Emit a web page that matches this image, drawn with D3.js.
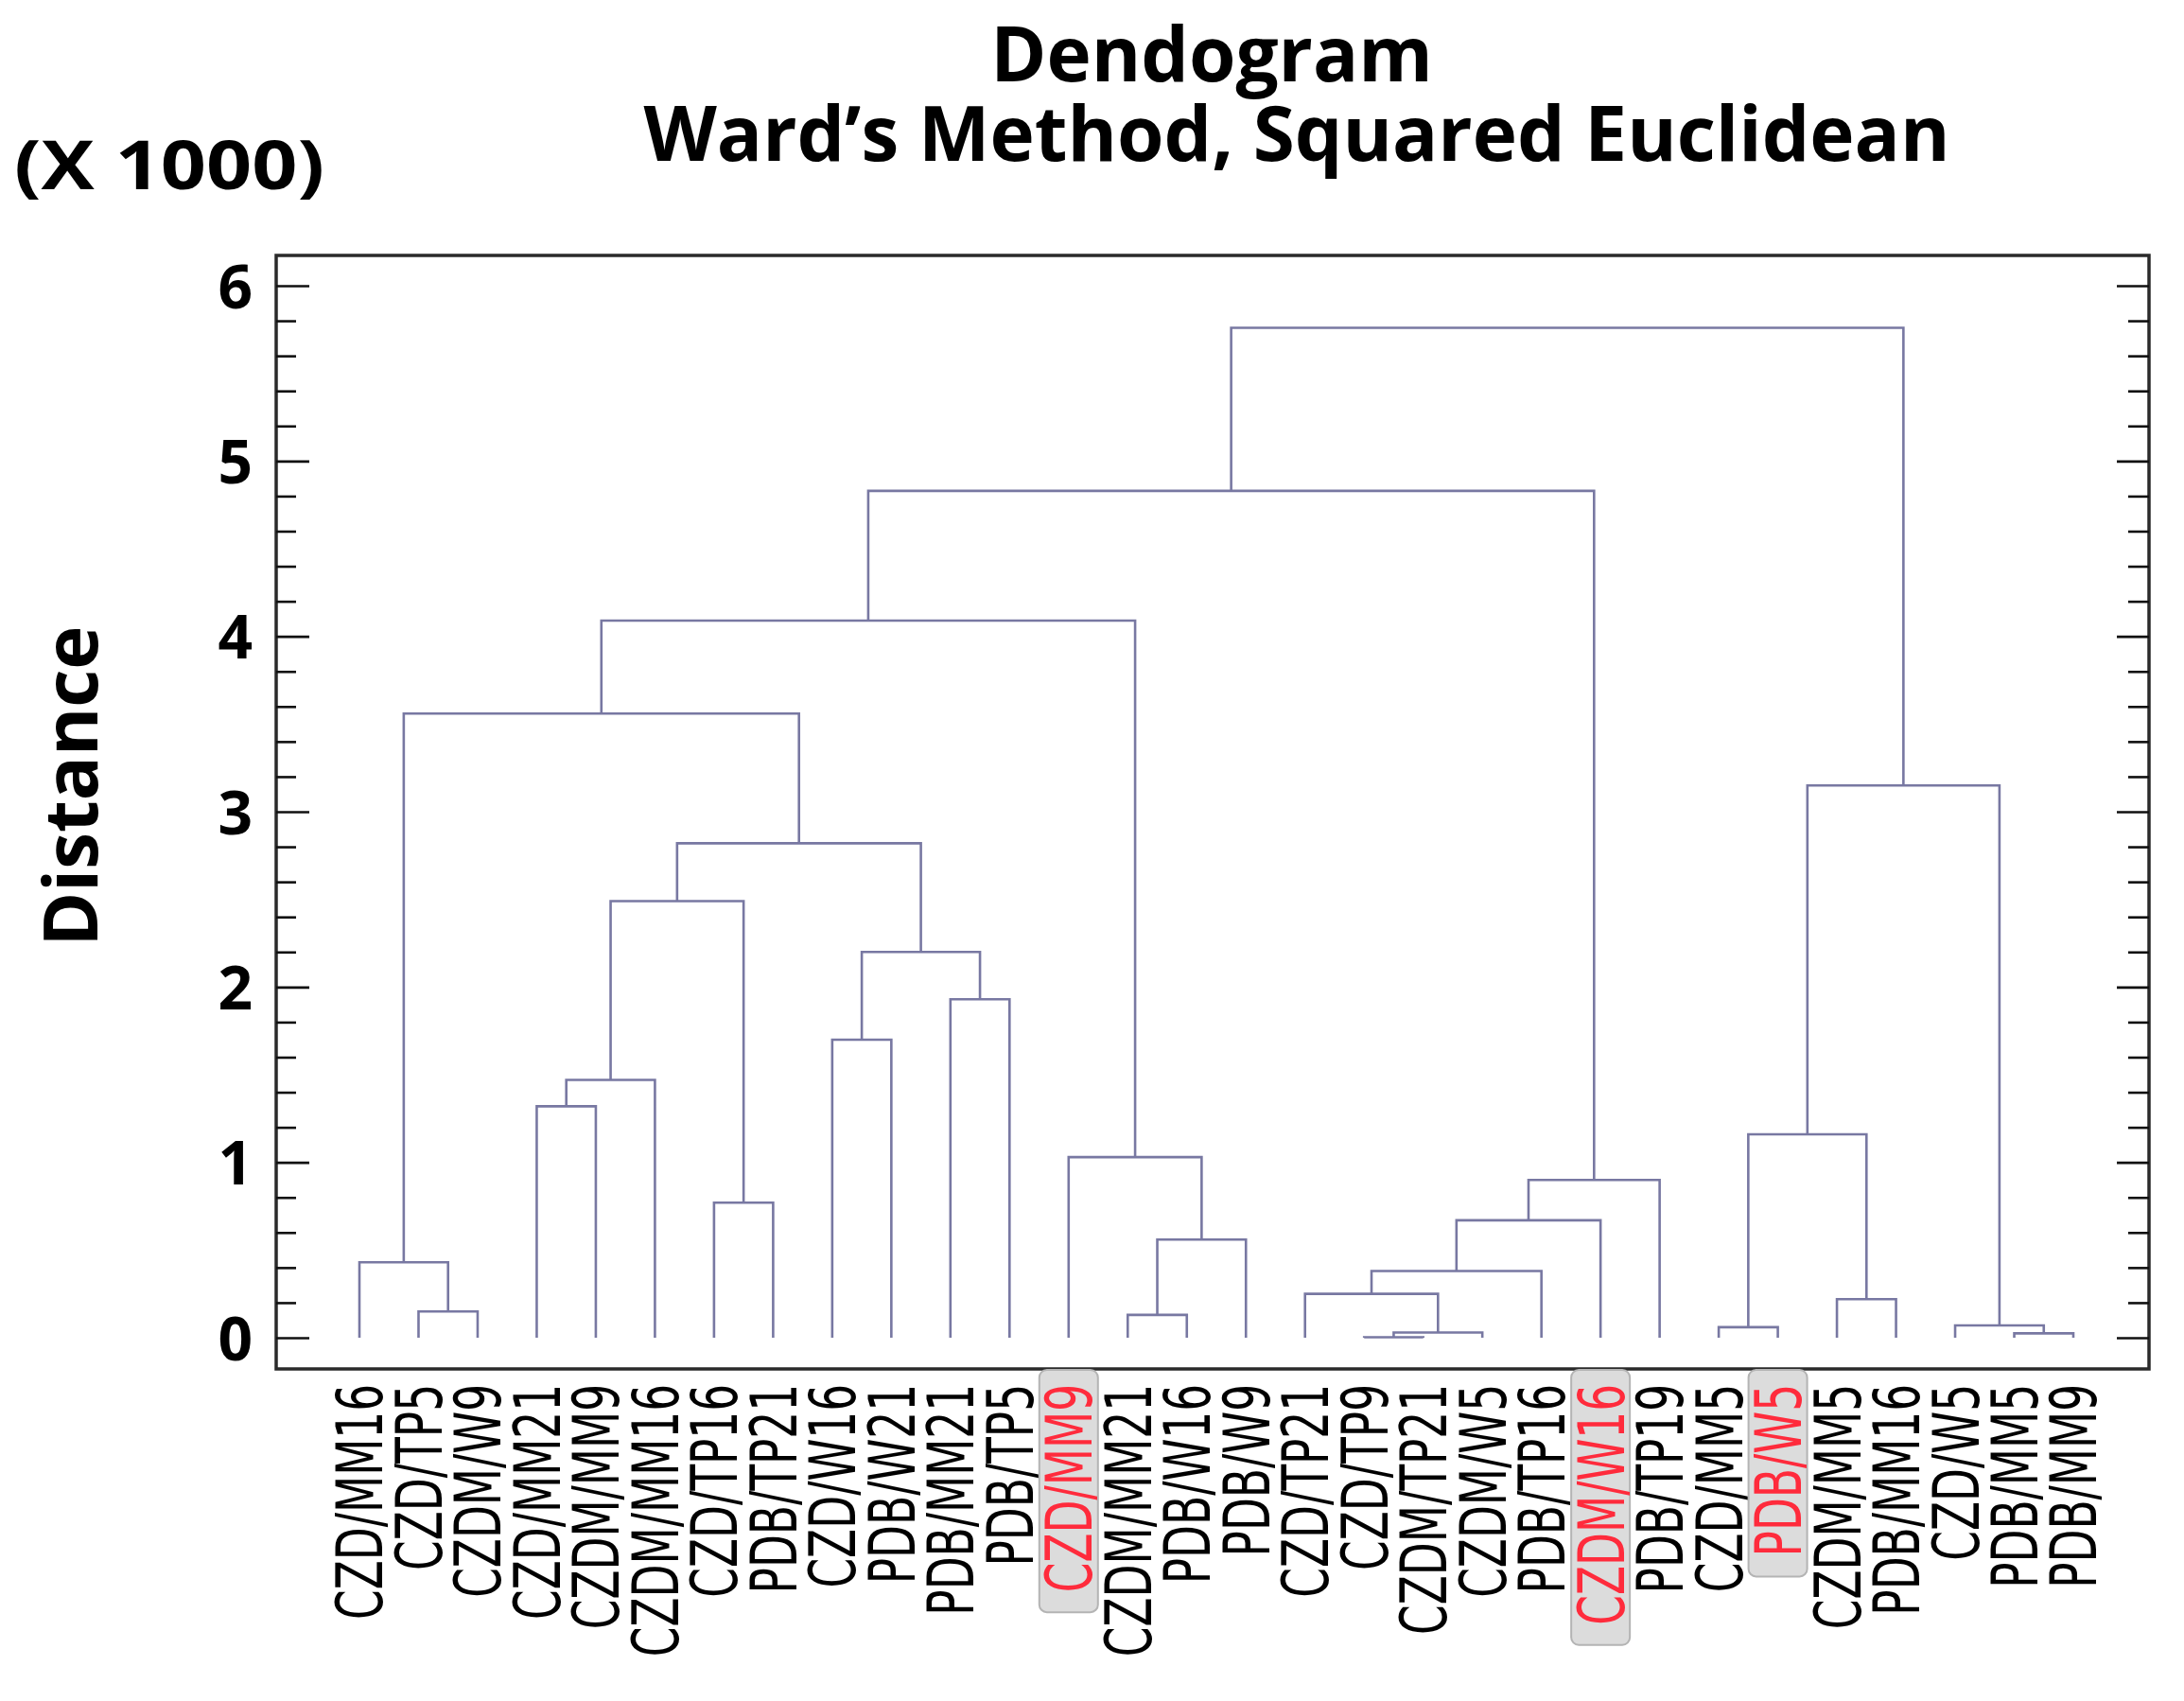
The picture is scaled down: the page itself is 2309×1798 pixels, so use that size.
<!DOCTYPE html>
<html>
<head>
<meta charset="utf-8">
<script src="https://cdn.jsdelivr.net/npm/d3@7/dist/d3.min.js"></script>
<style>
  body { margin: 0; background: #fff; }
</style>
</head>
<body>
<div id="chart"></div>
<script>
'use strict';

// leaf order along the x axis
var leaves = [
    'CZD/MM16', 'CZD/TP5', 'CZDM/W9', 'CZD/MM21', 'CZDM/MM9', 'CZDM/MM16',
    'CZD/TP16', 'PDB/TP21', 'CZD/W16', 'PDB/W21', 'PDB/MM21', 'PDB/TP5',
    'CZD/MM9', 'CZDM/MM21', 'PDB/W16', 'PDB/W9', 'CZD/TP21', 'CZD/TP9',
    'CZDM/TP21', 'CZDM/W5', 'PDB/TP16', 'CZDM/W16', 'PDB/TP19', 'CZD/MM5',
    'PDB/W5', 'CZDM/MM5', 'PDB/MM16', 'CZD/W5', 'PDB/MM5', 'PDB/MM9'
];

var highlighted = ['CZD/MM9', 'CZDM/W16', 'PDB/W5'];

// merges: [child a, child b, distance (x 1000)]
// ids 0..29 are leaves, merge i gets id 30 + i
var linkage = [
    [17, 18, 0.003],   // 30
    [30, 19, 0.03],    // 31
    [28, 29, 0.025],   // 32
    [23, 24, 0.06],    // 33
    [27, 32, 0.07],    // 34
    [13, 14, 0.13],    // 35
    [1, 2, 0.15],      // 36
    [25, 26, 0.22],    // 37
    [16, 31, 0.25],    // 38
    [38, 20, 0.38],    // 39
    [0, 36, 0.43],     // 40
    [35, 15, 0.56],    // 41
    [39, 21, 0.67],    // 42
    [6, 7, 0.77],      // 43
    [42, 22, 0.90],    // 44
    [12, 41, 1.03],    // 45
    [33, 37, 1.16],    // 46
    [3, 4, 1.32],      // 47
    [47, 5, 1.47],     // 48
    [8, 9, 1.70],      // 49
    [10, 11, 1.93],    // 50
    [49, 50, 2.20],    // 51
    [48, 43, 2.49],    // 52
    [52, 51, 2.82],    // 53
    [46, 34, 3.15],    // 54
    [40, 53, 3.56],    // 55
    [55, 45, 4.09],    // 56
    [56, 44, 4.83],    // 57
    [57, 54, 5.76]     // 58
];

var majorTicks = [0, 1, 2, 3, 4, 5, 6];
var minorTicks = [0.2, 0.4, 0.6, 0.8, 1.2, 1.4, 1.6, 1.8, 2.2, 2.4, 2.6, 2.8,
                  3.2, 3.4, 3.6, 3.8, 4.2, 4.4, 4.6, 4.8, 5.2, 5.4, 5.6, 5.8];

var W = 2309, H = 1798;
var frame = {left: 292, right: 2272, top: 270, bottom: 1447};

var svg = d3.select('#chart').append('svg')
    .attr('width', W)
    .attr('height', H)
    .style('background', '#fff');

var x = d3.scalePoint()
    .domain(leaves)
    .range([frame.left + 88, frame.right - 80]);

var y = d3.scaleLinear()
    .domain([0, 6])
    .range([1414, 302]);

// node positions
var nodeX = leaves.map(function(d) { return x(d); });
var nodeH = leaves.map(function() { return 0; });
linkage.forEach(function(m) {
    nodeX.push((nodeX[m[0]] + nodeX[m[1]]) / 2);
    nodeH.push(m[2]);
});

// dendrogram links
svg.append('g')
  .selectAll('path')
    .data(linkage)
  .enter().append('path')
    .attr('fill', 'none')
    .attr('stroke', '#7878a2')
    .attr('stroke-width', 2.6)
    .attr('d', function(m) {
        var a = m[0], b = m[1];
        return 'M' + nodeX[a] + ',' + y(nodeH[a]) +
               'V' + y(m[2]) +
               'H' + nodeX[b] +
               'V' + y(nodeH[b]);
    });

// frame
svg.append('rect')
    .attr('x', frame.left)
    .attr('y', frame.top)
    .attr('width', frame.right - frame.left)
    .attr('height', frame.bottom - frame.top)
    .attr('fill', 'none')
    .attr('stroke', '#2a2a2a')
    .attr('stroke-width', 3.5);

// left axis
var leftMajor = svg.append('g')
    .attr('transform', 'translate(' + frame.left + ',0)')
    .call(d3.axisLeft(y).tickValues(majorTicks).tickSize(-35).tickPadding(25).tickFormat(d3.format('d')));
var leftMinor = svg.append('g')
    .attr('transform', 'translate(' + frame.left + ',0)')
    .call(d3.axisLeft(y).tickValues(minorTicks).tickSize(-21).tickFormat(''));
var rightMajor = svg.append('g')
    .attr('transform', 'translate(' + frame.right + ',0)')
    .call(d3.axisRight(y).tickValues(majorTicks).tickSize(-34).tickFormat(''));
var rightMinor = svg.append('g')
    .attr('transform', 'translate(' + frame.right + ',0)')
    .call(d3.axisRight(y).tickValues(minorTicks).tickSize(-22).tickFormat(''));

[leftMajor, leftMinor, rightMajor, rightMinor].forEach(function(g) {
    g.select('.domain').remove();
    g.selectAll('.tick line').attr('stroke', '#111').attr('stroke-width', 2.6);
});
leftMajor.selectAll('.tick text')
    .style('font-family', '"Open Sans", sans-serif')
    .style('font-weight', 'bold')
    .style('font-size', '64px')
    .attr('fill', '#000')
    .attr('dy', '0.36em');

// leaf labels, rotated, condensed
var labelFont = '"Liberation Sans Narrow", "DejaVu Sans Condensed", "Liberation Sans", sans-serif';
var probe = svg.append('text')
    .style('font-family', labelFont)
    .style('font-size', '68px')
    .text('CZD/MM16');
var squeeze = 249 / probe.node().getComputedTextLength();
probe.remove();

var labelTop = 1463;
var labels = svg.append('g').selectAll('g')
    .data(leaves)
  .enter().append('g')
    .attr('transform', function(d) { return 'translate(' + x(d) + ',' + labelTop + ')'; });

labels.each(function(d) {
    var g = d3.select(this);
    var isHi = highlighted.indexOf(d) >= 0;
    var t = g.append('text')
        .attr('transform', 'rotate(-90) scale(' + squeeze + ',1)')
        .attr('text-anchor', 'end')
        .attr('dy', '0.36em')
        .style('font-family', labelFont)
        .style('font-size', '68px')
        .attr('fill', isHi ? '#ff2b3c' : '#000')
        .text(d);
    if (isHi) {
        var len = t.node().getComputedTextLength() * squeeze;
        g.insert('rect', 'text')
            .attr('x', -31)
            .attr('y', frame.bottom + 1 - labelTop)
            .attr('width', 62)
            .attr('height', len + 20 + (labelTop - frame.bottom))
            .attr('rx', 8)
            .attr('fill', '#dcdcdc')
            .attr('stroke', '#b4b4b4')
            .attr('stroke-width', 2);
    }
});

// titles
var boldFont = '"Open Sans", sans-serif';
svg.append('text')
    .attr('x', 1281)
    .attr('y', 86)
    .attr('text-anchor', 'middle')
    .style('font-family', boldFont)
    .style('font-weight', 'bold')
    .style('font-size', '80px')
    .text('Dendogram');
svg.append('text')
    .attr('x', 1371)
    .attr('y', 170)
    .attr('text-anchor', 'middle')
    .style('font-family', boldFont)
    .style('font-weight', 'bold')
    .style('font-size', '80px')
    .text('Ward\u2019s Method, Squared Euclidean');
svg.append('text')
    .attr('x', 15)
    .attr('y', 200)
    .attr('textLength', 328)
    .attr('lengthAdjust', 'spacingAndGlyphs')
    .style('font-family', boldFont)
    .style('font-weight', 'bold')
    .style('font-size', '72px')
    .text('(X 1000)');
svg.append('text')
    .attr('transform', 'translate(103,831) rotate(-90)')
    .attr('text-anchor', 'middle')
    .style('font-family', boldFont)
    .style('font-weight', 'bold')
    .style('font-size', '78px')
    .text('Distance');
</script>
</body>
</html>
